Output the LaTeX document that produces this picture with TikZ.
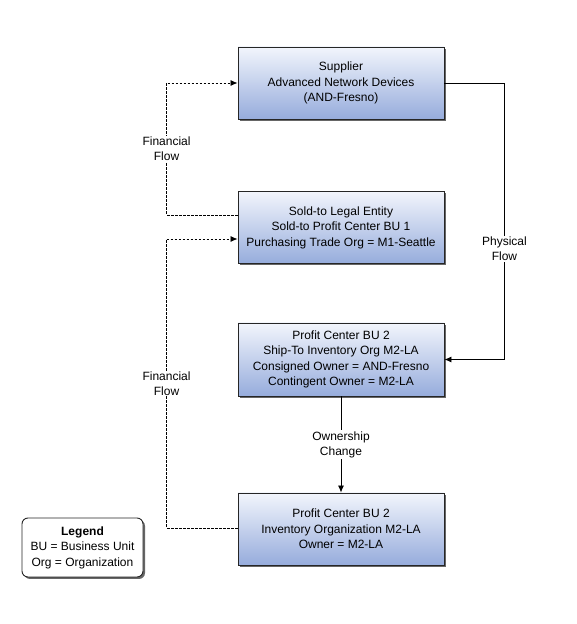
\documentclass[tikz,border=0pt]{standalone}
\usepackage{fontspec}
\setmainfont{Liberation Sans}
\usetikzlibrary{arrows.meta, shadows}
\definecolor{boxtop}{RGB}{242,245,252}
\definecolor{boxbottom}{RGB}{150,172,220}
\tikzset{orgbox/.style={draw=black!85, line width=0.9pt, top color=boxtop, bottom color=boxbottom,
    minimum width=206pt, minimum height=72pt, align=center, font=\fontsize{12}{15.5}\selectfont,
    drop shadow={shadow xshift=2pt, shadow yshift=-2pt, fill=black!75, opacity=0.8}}}
\tikzset{flowlabel/.style={fill=white, inner sep=1pt, align=center, font=\fontsize{12}{15}\selectfont}}
\tikzset{finflow/.style={line width=0.8pt, dash pattern=on 2.5pt off 1.5pt, -{Latex[length=7pt,width=6pt]}}}
\tikzset{physflow/.style={line width=0.8pt, -{Latex[length=7pt,width=6pt]}}}

\begin{document}
\begin{tikzpicture}[x=1pt, y=1pt]
    \useasboundingbox (0, 0) rectangle (576, 624);
    \node[orgbox] (supplier) at (341, 541) {Supplier\\Advanced Network Devices\\(AND-Fresno)};
    \node[orgbox] (soldto) at (341, 396.5) {Sold-to Legal Entity\\Sold-to Profit Center BU 1\\Purchasing Trade Org = M1-Seattle};
    \node[orgbox, minimum height=73pt] (shipto) at (341, 264.5) {Profit Center BU 2\\Ship-To Inventory Org M2-LA\\Consigned Owner = AND-Fresno\\Contingent Owner = M2-LA};
    \node[orgbox] (owner) at (341, 95) {Profit Center BU 2\\Inventory Organization M2-LA\\Owner = M2-LA};
    \node[draw=black!85, line width=0.9pt, rounded corners=6pt, fill=white, minimum width=121pt, minimum height=59pt,
        align=center, font=\fontsize{12}{15.5}\selectfont,
        drop shadow={shadow xshift=2pt, shadow yshift=-2pt, fill=black!75, opacity=0.8}] (legend) at (82.5, 76.5)
        {\textbf{Legend}\\BU = Business Unit\\Org = Organization};
    \draw[finflow] ([yshift=12.5pt]soldto.west) -- ++(-71, 0) |- node[flowlabel, pos=0.25] {Financial\\Flow} (supplier.west);
    \draw[finflow] ([yshift=1pt]owner.west) -- ++(-71, 0) |- node[flowlabel, pos=0.25] {Financial\\Flow} ([yshift=-11.5pt]soldto.west);
    \draw[physflow] (supplier.east) -- ++(60, 0) |- node[flowlabel, pos=0.3] {Physical\\Flow} (shipto.east);
    \draw[physflow] (shipto.south) -- node[flowlabel] {Ownership\\Change} (owner.north);
\end{tikzpicture}
\end{document}
